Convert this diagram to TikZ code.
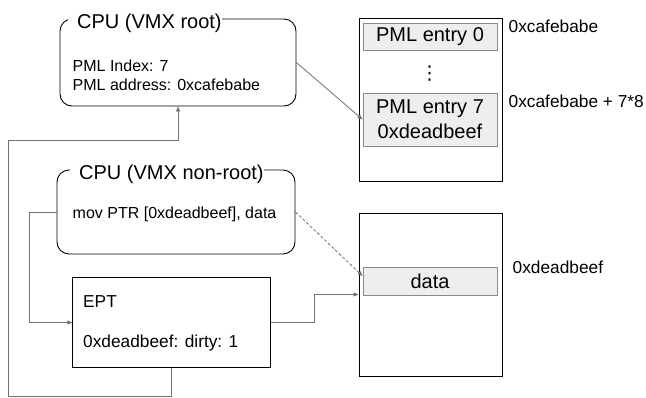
\documentclass[tikz,border=0pt]{standalone}
\usepackage{fontspec}
\setmainfont{Liberation Sans}
\newfontfamily\symfnt{DejaVu Sans}
\usetikzlibrary{arrows.meta,calc}
\definecolor{conn}{HTML}{707070}
\definecolor{entryfill}{HTML}{EEEEEE}
\definecolor{entryline}{HTML}{8A8A8A}
\tikzset{
  cpubox/.style={draw=black, line width=0.9pt, rounded corners=12pt, inner sep=0pt},
  plainbox/.style={draw=black, line width=0.9pt, inner sep=0pt},
  membox/.style={draw=black, line width=0.9pt, inner sep=0pt},
  entrybox/.style={draw=entryline, fill=entryfill, line width=0.9pt, inner sep=0pt, align=center, font=\fontsize{20}{25}\selectfont},
  titletext/.style={fill=white, inner xsep=0pt, inner ysep=2pt, anchor=base west, font=\fontsize{20}{24}\selectfont},
  smalltext/.style={inner sep=0pt, anchor=base west, font=\fontsize{16}{19}\selectfont},
  labeltext/.style={inner sep=0pt, anchor=base west, font=\fontsize{17.3}{20}\selectfont},
  link/.style={draw=conn, line width=0.8pt, -{Triangle[length=5pt,width=4pt]}},
  dashlink/.style={link, dash pattern=on 3pt off 2pt}
}
\begin{document}
\begin{tikzpicture}[x=1pt,y=-1pt]
\useasboundingbox (0,0) rectangle (646,397);
% CPU root
\node[cpubox, minimum width=236, minimum height=87] (root) at (178,62.5) {};
\node[titletext] (roottitle) at (68,28) {\hspace{9pt}CPU (VMX root)\hspace{16pt}};
\node[smalltext] (pmlidx) at (72.5,71) {PML Index: 7};
\node[smalltext] (pmladdr) at (72.5,90) {PML address: 0xcafebabe};
% CPU non-root
\node[cpubox, minimum width=238, minimum height=84] (nonroot) at (176,212) {};
\node[titletext] (nonroottitle) at (70,179) {\hspace{9pt}CPU (VMX non-root)\hspace{13pt}};
\node[smalltext] (mov) at (72.5,218) {mov PTR [0xdeadbeef], data};
% EPT
\node[plainbox, minimum width=197.5, minimum height=90.5] (ept) at (171.5,322.5) {};
\node[labeltext] (epttitle) at (83,307) {EPT};
\node[labeltext] (eptdirty) at (83,347) {0xdeadbeef: dirty: 1};
% Memory 1
\node[membox, minimum width=143, minimum height=163] (mem1) at (430.5,99.5) {};
\node[entrybox, minimum width=134, minimum height=27] (entry0) at (430,36.5) {PML entry 0};
\node[inner sep=0pt, font=\symfnt\fontsize{19}{22}\selectfont] (dots) at (429.5,74) {⋮};
\node[entrybox, minimum width=134, minimum height=53] (entry7) at (430,119.5) {PML entry 7\\0xdeadbeef};
\node[labeltext] (lblcafe) at (508.5,32) {0xcafebabe};
\node[labeltext] (lblcafe7) at (508.5,107) {0xcafebabe + 7*8};
% Memory 2
\node[membox, minimum width=143, minimum height=163] (mem2) at (430.5,294.5) {};
\node[entrybox, minimum width=134, minimum height=28] (data) at (430,281) {data};
\node[labeltext] (lbldead) at (512.5,273) {0xdeadbeef};
% connectors
\coordinate (loopa) at (8,396);
\coordinate (loopb) at (8,140);
\draw[link] (root.east) -- (entry7.west);
\draw[dashlink] (nonroot.east) -- ([yshift=5pt]data.west);
\draw[link] (nonroot.west) -- ++(-27,0) |- (ept.west);
\draw[link] (ept.east) -- (314,322.5) |- (mem2.west);
\draw[link] (ept.south) |- (loopa) -- (loopb) -| (root.south);
\end{tikzpicture}
\end{document}
